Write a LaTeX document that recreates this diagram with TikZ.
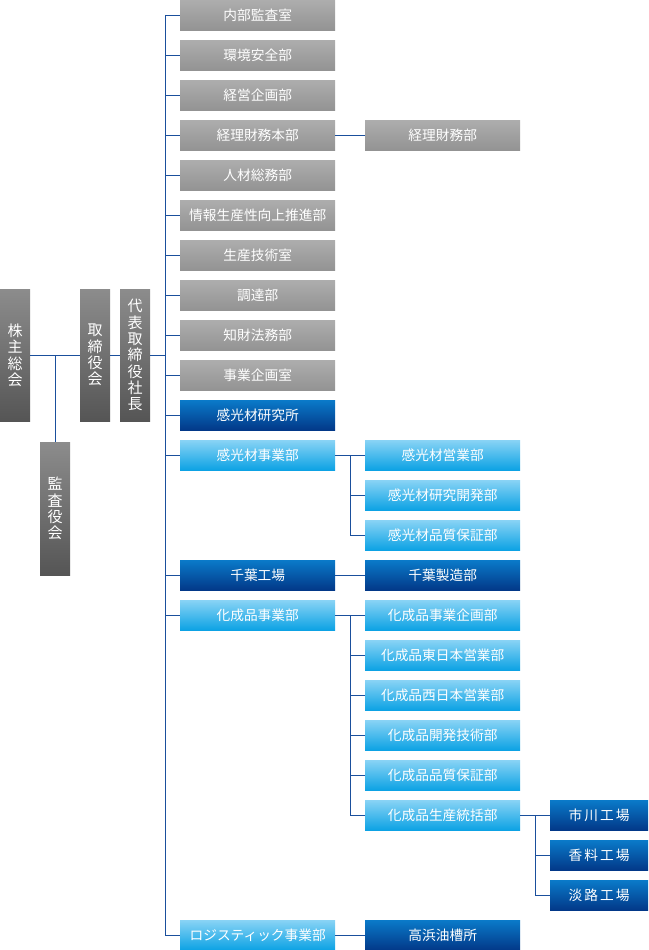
\documentclass[tikz,border=0pt]{standalone}
\usepackage{fontspec}
\setmainfont{Noto Sans CJK JP}
\definecolor{grayTop}{HTML}{ADADAD}
\definecolor{grayBot}{HTML}{939393}
\definecolor{darkTop}{HTML}{8C8C8C}
\definecolor{darkBot}{HTML}{555555}
\definecolor{navyTop}{HTML}{0A7AC9}
\definecolor{navyBot}{HTML}{023888}
\definecolor{skyTop}{HTML}{88D3F5}
\definecolor{skyBot}{HTML}{0CA2E4}
\definecolor{lineC}{HTML}{1A4F9C}
\begin{document}
\begin{tikzpicture}[x=1pt,y=-1pt,
  hbox/.style={minimum width=155pt, minimum height=30pt, inner sep=0pt, anchor=north west,
    text=white, font=\fontsize{13.7}{15}\selectfont},
  smallbox/.style={hbox, minimum width=98pt, font=\fontsize{13.7}{15}\selectfont\addfontfeatures{LetterSpace=15}},
  graybox/.style={top color=grayTop, bottom color=grayBot},
  navybox/.style={top color=navyTop, bottom color=navyBot},
  skybox/.style={top color=skyTop, bottom color=skyBot},
  vbox/.style={minimum width=30pt, minimum height=132pt, inner sep=0pt, anchor=north west,
    top color=darkTop, bottom color=darkBot, text=white, align=center,
    font=\fontsize{15}{16.3}\selectfont},
  conn/.style={draw=lineC, line width=0.9pt}
]
\useasboundingbox (0,0) rectangle (648,950);
% left vertical boxes
\node[vbox] (kabu) at (0,289) {株\\主\\総\\会};
\node[vbox] (tori) at (80,289) {取\\締\\役\\会};
\node[vbox] (dai) at (120,289) {代\\表\\取\\締\\役\\社\\長};
\node[vbox, minimum height=133pt] (kansa) at (40,442) {監\\査\\役\\会};
% column 1
\node[hbox,graybox] (a1) at (180,0) {内部監査室};
\node[hbox,graybox] (a2) at (180,40) {環境安全部};
\node[hbox,graybox] (a3) at (180,80) {経営企画部};
\node[hbox,graybox] (a4) at (180,120) {経理財務本部};
\node[hbox,graybox] (a5) at (180,160) {人材総務部};
\node[hbox,graybox] (a6) at (180,200) {情報生産性向上推進部};
\node[hbox,graybox] (a7) at (180,240) {生産技術室};
\node[hbox,graybox] (a8) at (180,280) {調達部};
\node[hbox,graybox] (a9) at (180,320) {知財法務部};
\node[hbox,graybox] (a10) at (180,360) {事業企画室};
\node[hbox,navybox] (a11) at (180,400) {感光材研究所};
\node[hbox,skybox] (a12) at (180,440) {感光材事業部};
\node[hbox,navybox] (a13) at (180,560) {千葉工場};
\node[hbox,skybox] (a14) at (180,600) {化成品事業部};
\node[hbox,skybox] (a15) at (180,920) {ロジスティック事業部};
% column 2
\node[hbox,graybox] (b1) at (365,120) {経理財務部};
\node[hbox,skybox] (b2) at (365,440) {感光材営業部};
\node[hbox,skybox] (b3) at (365,480) {感光材研究開発部};
\node[hbox,skybox] (b4) at (365,520) {感光材品質保証部};
\node[hbox,navybox] (b5) at (365,560) {千葉製造部};
\node[hbox,skybox] (b6) at (365,600) {化成品事業企画部};
\node[hbox,skybox] (b7) at (365,640) {化成品東日本営業部};
\node[hbox,skybox] (b8) at (365,680) {化成品西日本営業部};
\node[hbox,skybox] (b9) at (365,720) {化成品開発技術部};
\node[hbox,skybox] (b10) at (365,760) {化成品品質保証部};
\node[hbox,skybox] (b11) at (365,800) {化成品生産統括部};
\node[hbox,navybox] (b12) at (365,920) {高浜油槽所};
% column 3
\node[smallbox,navybox] (c1) at (550,800) {市川工場};
\node[smallbox,navybox] (c2) at (550,840) {香料工場};
\node[smallbox,navybox] (c3) at (550,880) {淡路工場};
% trunk coordinates
\coordinate (tTop) at (165,15);
\coordinate (tBot) at (165,935);
\coordinate (s1Top) at (350,455);
\coordinate (s1Bot) at (350,535);
\coordinate (s2Top) at (350,615);
\coordinate (s2Bot) at (350,815);
\coordinate (s3Top) at (535,815);
\coordinate (s3Bot) at (535,895);
% connectors
\draw[conn] (kabu.east) -- (tori.west);
\draw[conn] (kabu.east -| kansa.north) -- (kansa.north);
\draw[conn] (tori.east) -- (dai.west);
\draw[conn] (dai.east) -- (dai.east -| tTop);
\draw[conn] (tTop) -- (tBot);
\foreach \n in {a1,a2,a3,a4,a5,a6,a7,a8,a9,a10,a11,a12,a13,a14,a15}
  \draw[conn] (\n.west -| tTop) -- (\n.west);
\draw[conn] (a4.east) -- (b1.west);
\draw[conn] (a13.east) -- (b5.west);
\draw[conn] (a15.east) -- (b12.west);
\draw[conn] (a12.east) -- (b2.west);
\draw[conn] (s1Top) -- (s1Bot);
\foreach \n in {b3,b4}
  \draw[conn] (\n.west -| s1Top) -- (\n.west);
\draw[conn] (a14.east) -- (b6.west);
\draw[conn] (s2Top) -- (s2Bot);
\foreach \n in {b7,b8,b9,b10,b11}
  \draw[conn] (\n.west -| s2Top) -- (\n.west);
\draw[conn] (b11.east) -- (c1.west);
\draw[conn] (s3Top) -- (s3Bot);
\foreach \n in {c2,c3}
  \draw[conn] (\n.west -| s3Top) -- (\n.west);
\end{tikzpicture}
\end{document}
